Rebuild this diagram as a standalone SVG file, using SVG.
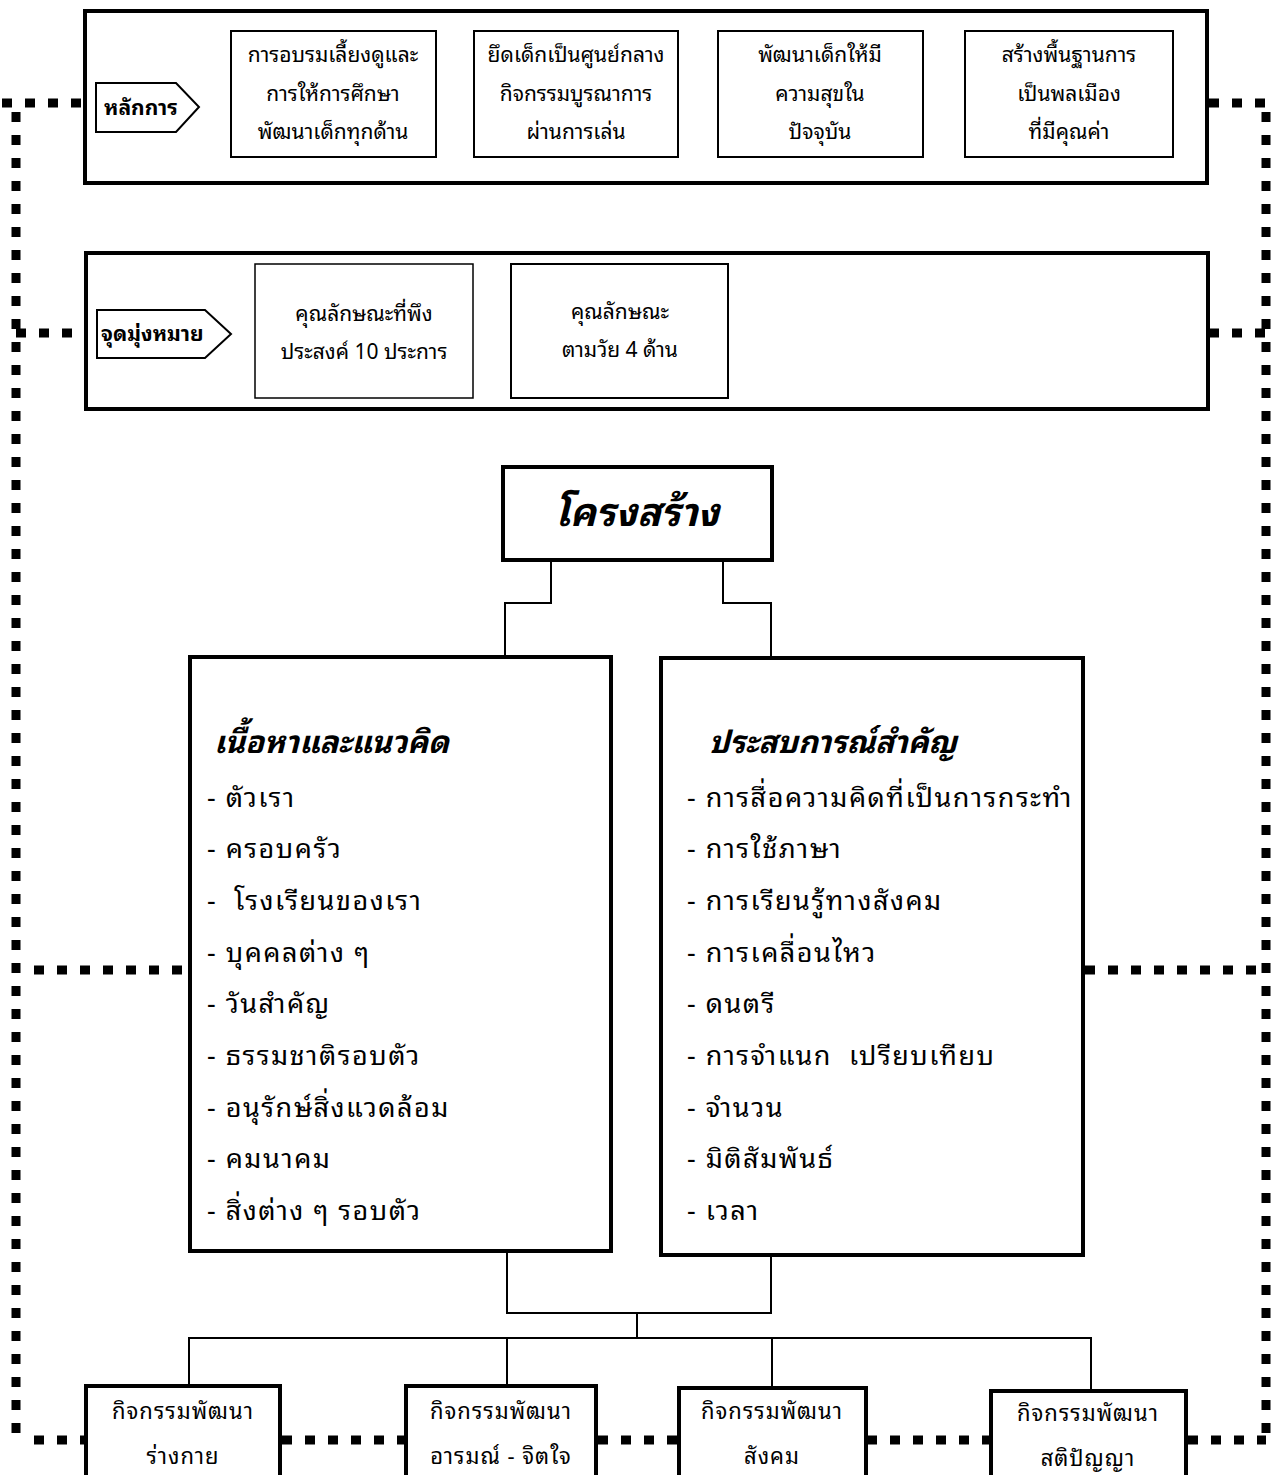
<svg xmlns="http://www.w3.org/2000/svg" width="1273" height="1475" viewBox="0 0 1273 1475">
<style>
  text { font-family: "Noto Sans Thai Looped", "Norasi", "Kinnari", "Garuda", "Loma", "Noto Sans Thai", "Noto Sans", "DejaVu Sans", sans-serif; fill: #000; }
  .c { text-anchor: middle; }
  .t1 { font-size: 21px; }
  .t2 { font-size: 21px; }
  .item { font-size: 27px; letter-spacing: 1.5px; }
  .head { font-size: 31px; font-style: italic; font-weight: bold; }
  .title { font-size: 39px; font-style: italic; font-weight: bold; }
  .tag { font-size: 21px; font-weight: bold; }
  .bot { font-size: 22px; letter-spacing: 1px; }
  .thick { fill: #fff; stroke: #000; stroke-width: 4; }
  .thin { fill: #fff; stroke: #000; stroke-width: 2; }
  .hair { fill: #fff; stroke: #000; stroke-width: 1.5; }
  .conn { fill: none; stroke: #000; stroke-width: 2; }
  .dot { fill: none; stroke: #000; stroke-width: 9; stroke-dasharray: 10 13; }
</style>
<rect width="1273" height="1475" fill="#fff"/>

<g id="dotted-connectors">
  <path class="dot" d="M2 103 H85"/>
  <path class="dot" d="M16 112 V1440"/>
  <path class="dot" d="M16 333 H95"/>
  <path class="dot" d="M34 970 H189"/>
  <path class="dot" d="M34 1440 H85"/>
  <path class="dot" d="M282 1440 H405"/>
  <path class="dot" d="M598 1440 H678"/>
  <path class="dot" d="M867 1440 H990"/>
  <path class="dot" d="M1188 1440 H1266"/>
  <path class="dot" d="M1209 103 H1273"/>
  <path class="dot" d="M1266 112 V1440"/>
  <path class="dot" d="M1209 333 H1266"/>
  <path class="dot" d="M1085 970 H1266"/>
</g>

<g id="tree-connectors">
  <path class="conn" d="M551 560 V603 H505 V657"/>
  <path class="conn" d="M723 560 V603 H771 V657"/>
  <path class="conn" d="M507 1251 V1313 H771 V1255"/>
  <path class="conn" d="M637 1313 V1338"/>
  <path class="conn" d="M189 1385 V1338 H1091 V1390"/>
  <path class="conn" d="M507 1338 V1385"/>
  <path class="conn" d="M772 1338 V1387"/>
</g>

<g id="principles">
  <rect class="thick" x="85" y="11" width="1122" height="172"/>
  <g id="tag-principles">
    <path class="thin" d="M96 83 H176 L199 107 L176 132 H96 Z"/>
    <text class="tag" x="104" y="115">หลักการ</text>
  </g>
  <g id="p1">
    <rect class="thin" x="231" y="31" width="205" height="126"/>
    <text class="t1 c" x="333" y="62">การอบรมเลี้ยงดูและ</text>
    <text class="t1 c" x="333" y="101">การให้การศึกษา</text>
    <text class="t1 c" x="333" y="139">พัฒนาเด็กทุกด้าน</text>
  </g>
  <g id="p2">
    <rect class="thin" x="474" y="31" width="204" height="126"/>
    <text class="t1 c" x="576" y="62">ยึดเด็กเป็นศูนย์กลาง</text>
    <text class="t1 c" x="576" y="101">กิจกรรมบูรณาการ</text>
    <text class="t1 c" x="576" y="139">ผ่านการเล่น</text>
  </g>
  <g id="p3">
    <rect class="thin" x="718" y="31" width="205" height="126"/>
    <text class="t1 c" x="820" y="62">พัฒนาเด็กให้มี</text>
    <text class="t1 c" x="820" y="101">ความสุขใน</text>
    <text class="t1 c" x="820" y="139">ปัจจุบัน</text>
  </g>
  <g id="p4">
    <rect class="thin" x="965" y="31" width="208" height="126"/>
    <text class="t1 c" x="1069" y="62">สร้างพื้นฐานการ</text>
    <text class="t1 c" x="1069" y="101">เป็นพลเมือง</text>
    <text class="t1 c" x="1069" y="139">ที่มีคุณค่า</text>
  </g>
</g>

<g id="goals">
  <rect class="thick" x="86" y="253" width="1122" height="156"/>
  <g id="tag-goals">
    <path class="thin" d="M97 310 H205 L231 334 L205 358 H97 Z"/>
    <text class="tag" x="101" y="341">จุดมุ่งหมาย</text>
  </g>
  <g id="g1">
    <rect class="hair" x="255" y="264" width="218" height="134"/>
    <text class="t2 c" x="364" y="321">คุณลักษณะที่พึง</text>
    <text class="t2 c" x="364" y="359">ประสงค์ 10 ประการ</text>
  </g>
  <g id="g2">
    <rect class="thin" x="511" y="264" width="217" height="134"/>
    <text class="t2 c" x="620" y="319">คุณลักษณะ</text>
    <text class="t2 c" x="620" y="357">ตามวัย 4 ด้าน</text>
  </g>
</g>

<g id="structure">
  <rect class="thick" x="503" y="467" width="269" height="93"/>
  <text class="title c" x="637" y="526">โครงสร้าง</text>
</g>

<g id="content">
  <rect class="thick" x="190" y="657" width="421" height="594"/>
  <text class="head" x="214" y="753">เนื้อหาและแนวคิด</text>
  <text class="item" x="207" y="807">- ตัวเรา</text>
  <text class="item" x="207" y="858">- ครอบครัว</text>
  <text class="item" x="207" y="910" xml:space="preserve">-  โรงเรียนของเรา</text>
  <text class="item" x="207" y="962">- บุคคลต่าง ๆ</text>
  <text class="item" x="207" y="1013">- วันสำคัญ</text>
  <text class="item" x="207" y="1065">- ธรรมชาติรอบตัว</text>
  <text class="item" x="207" y="1117">- อนุรักษ์สิ่งแวดล้อม</text>
  <text class="item" x="207" y="1168">- คมนาคม</text>
  <text class="item" x="207" y="1220">- สิ่งต่าง ๆ รอบตัว</text>
</g>

<g id="experience">
  <rect class="thick" x="661" y="658" width="422" height="597"/>
  <text class="head" x="709" y="753">ประสบการณ์สำคัญ</text>
  <text class="item" x="687" y="807">- การสื่อความคิดที่เป็นการกระทำ</text>
  <text class="item" x="687" y="858">- การใช้ภาษา</text>
  <text class="item" x="687" y="910">- การเรียนรู้ทางสังคม</text>
  <text class="item" x="687" y="962">- การเคลื่อนไหว</text>
  <text class="item" x="687" y="1013">- ดนตรี</text>
  <text class="item" x="687" y="1065" xml:space="preserve">- การจำแนก  เปรียบเทียบ</text>
  <text class="item" x="687" y="1117">- จำนวน</text>
  <text class="item" x="687" y="1168">- มิติสัมพันธ์</text>
  <text class="item" x="687" y="1220">- เวลา</text>
</g>

<g id="act-physical">
  <rect class="thick" x="86" y="1386" width="194" height="95"/>
  <text class="bot c" x="183" y="1419">กิจกรรมพัฒนา</text>
  <text class="bot c" x="183" y="1464">ร่างกาย</text>
</g>
<g id="act-emotional">
  <rect class="thick" x="406" y="1386" width="190" height="95"/>
  <text class="bot c" x="501" y="1419">กิจกรรมพัฒนา</text>
  <text class="bot c" x="501" y="1464">อารมณ์ - จิตใจ</text>
</g>
<g id="act-social">
  <rect class="thick" x="679" y="1388" width="187" height="95"/>
  <text class="bot c" x="772" y="1419">กิจกรรมพัฒนา</text>
  <text class="bot c" x="772" y="1464">สังคม</text>
</g>
<g id="act-intellect">
  <rect class="thick" x="991" y="1391" width="195" height="95"/>
  <text class="bot c" x="1088" y="1421">กิจกรรมพัฒนา</text>
  <text class="bot c" x="1088" y="1466">สติปัญญา</text>
</g>
</svg>
